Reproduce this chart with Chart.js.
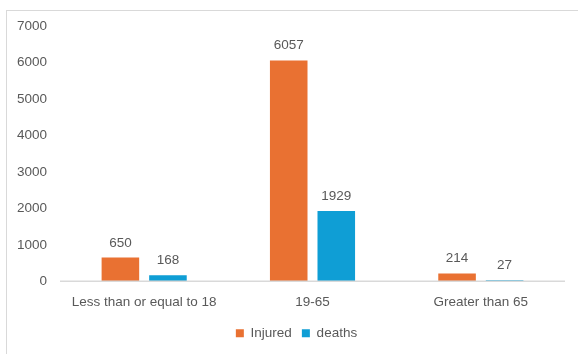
<!DOCTYPE html>
<html>
<head>
<meta charset="utf-8">
<script src="https://cdn.jsdelivr.net/npm/chart.js@4.4.1/dist/chart.umd.min.js"></script>
<style>
  html, body { margin: 0; padding: 0; background: #fff; overflow: hidden; }
  #frame {
    position: absolute; left: 6px; top: 10px; width: 620px; height: 400px;
    border-left: 1px solid #d9d9d9; border-top: 1px solid #d9d9d9;
  }
  #wrap { position: absolute; left: 0; top: 0; width: 578px; height: 354px; }
</style>
</head>
<body>
<div id="frame"></div>
<div id="wrap"><canvas id="chart"></canvas></div>
<script>
const categories = ['Less than or equal to 18', '19-65', 'Greater than 65'];
const injured = [650, 6057, 214];
const deaths = [168, 1929, 27];
const yTicks = [0, 1000, 2000, 3000, 4000, 5000, 6000, 7000];

const textGray = '#595959';
const axisGray = '#d9d9d9';
const orange = '#E97132';
const blue = '#0F9ED5';
const fontFamily = "'Liberation Sans', Arial, sans-serif";
const fontSize = 13.5;

// value labels above each bar, and the category axis line drawn over the bars
const barLabels = {
    id: 'barLabels',
    afterDatasetsDraw(chart) {
        const ctx = chart.ctx;
        const area = chart.chartArea;
        ctx.save();
        ctx.strokeStyle = axisGray;
        ctx.lineWidth = 1.5;
        ctx.beginPath();
        ctx.moveTo(area.left, area.bottom);
        ctx.lineTo(area.right, area.bottom);
        ctx.stroke();

        ctx.fillStyle = textGray;
        ctx.font = fontSize + 'px ' + fontFamily;
        ctx.textAlign = 'center';
        ctx.textBaseline = 'bottom';
        chart.data.datasets.forEach((ds, i) => {
            chart.getDatasetMeta(i).data.forEach((bar, j) => {
                ctx.fillText(ds.data[j], bar.x, bar.y - 8);
            });
        });
        ctx.restore();
    }
};

new Chart(document.getElementById('chart'), {
    type: 'bar',
    data: {
        labels: categories,
        datasets: [
            { label: 'Injured', data: injured, backgroundColor: orange },
            { label: 'deaths', data: deaths, backgroundColor: blue }
        ]
    },
    options: {
        responsive: true,
        maintainAspectRatio: false,
        animation: false,
        categoryPercentage: 0.565,
        barPercentage: 0.79,
        layout: { padding: { top: 26, right: 0, left: 15, bottom: 4 } },
        plugins: {
            legend: {
                position: 'bottom',
                labels: {
                    color: textGray,
                    boxWidth: 8,
                    boxHeight: 8,
                    padding: 10,
                    font: { family: fontFamily, size: fontSize }
                }
            },
            tooltip: { enabled: false }
        },
        scales: {
            x: {
                grid: { display: false },
                border: { display: false },
                afterFit: axis => { axis.height += 1; },
                ticks: { color: textGray, font: { family: fontFamily, size: fontSize }, padding: 5 }
            },
            y: {
                min: 0,
                max: 7000,
                afterBuildTicks: axis => { axis.ticks = yTicks.map(v => ({ value: v })); },
                afterFit: axis => { axis.width = 45; },
                grid: { display: false },
                border: { display: false },
                ticks: {
                    color: textGray,
                    font: { family: fontFamily, size: fontSize },
                    padding: 5,
                    callback: v => String(v)
                }
            },
            // empty right-hand spacer so the plot ends where the original does
            spacer: {
                position: 'right',
                afterFit: axis => { axis.width = 13; },
                grid: { display: false },
                border: { display: false },
                ticks: { display: false }
            }
        }
    },
    plugins: [barLabels]
});
</script>
</body>
</html>
